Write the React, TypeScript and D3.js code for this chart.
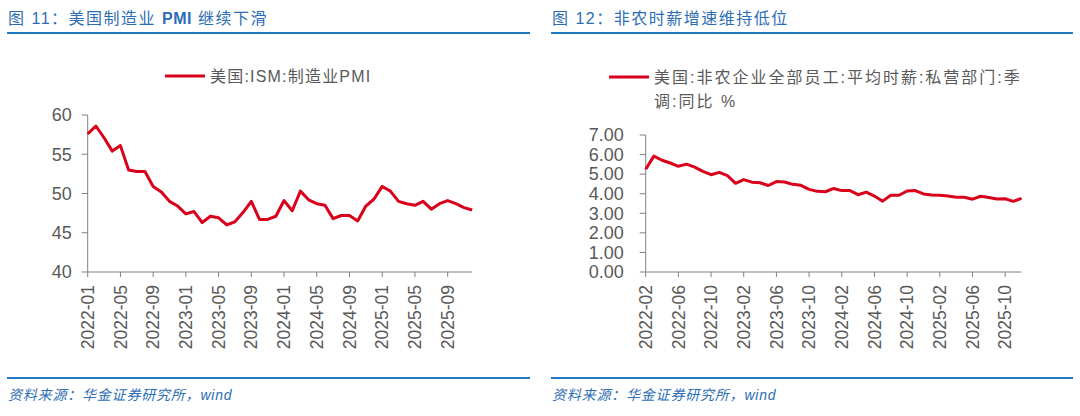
import React from "react";
import * as d3 from "d3";

// ISM manufacturing PMI, monthly from 2022-01
const pmiStart = [2022, 1];
const pmiValues = [
  57.6, 58.6, 57.1, 55.4, 56.1, 53.0, 52.8, 52.8, 50.9, 50.2, 49.0, 48.4,
  47.4, 47.7, 46.3, 47.1, 46.9, 46.0, 46.4, 47.6, 49.0, 46.7, 46.7, 47.1,
  49.1, 47.8, 50.3, 49.2, 48.7, 48.5, 46.8, 47.2, 47.2, 46.5, 48.4, 49.3,
  50.9, 50.3, 49.0, 48.7, 48.5, 49.0, 48.0, 48.7, 49.1, 48.7, 48.2, 47.9,
];
const pmiTicks = [
  "2022-01", "2022-05", "2022-09", "2023-01", "2023-05", "2023-09",
  "2024-01", "2024-05", "2024-09", "2025-01", "2025-05", "2025-09",
];
const pmiYTicks = [40, 45, 50, 55, 60];

// Average hourly earnings, private nonfarm, YoY %, monthly from 2022-02
const wageStart = [2022, 2];
const wageValues = [
  5.25, 5.92, 5.71, 5.57, 5.40, 5.51, 5.36, 5.14, 4.97, 5.09, 4.92, 4.53,
  4.72, 4.59, 4.56, 4.42, 4.62, 4.60, 4.48, 4.43, 4.22, 4.12, 4.10, 4.27,
  4.16, 4.16, 3.95, 4.08, 3.88, 3.62, 3.92, 3.92, 4.14, 4.16, 3.99, 3.94,
  3.92, 3.88, 3.82, 3.82, 3.72, 3.87, 3.81, 3.73, 3.74, 3.61, 3.76,
];
const wageTicks = [
  "2022-02", "2022-06", "2022-10", "2023-02", "2023-06", "2023-10",
  "2024-02", "2024-06", "2024-10", "2025-02", "2025-06", "2025-10",
];
const wageYTicks = [0, 1, 2, 3, 4, 5, 6, 7];

// Title pieces: [text, bold]
const leftTitle: [string, boolean][] = [
  ["图 11：美国制造业 ", false],
  ["PMI", true],
  [" 继续下滑", false],
];
const rightTitle: [string, boolean][] = [["图 12：非农时薪增速维持低位", false]];
const leftLegend = ["美国:ISM:制造业PMI"];
const rightLegend = ["美国:非农企业全部员工:平均时薪:私营部门:季", "调:同比 %"];
const source = "资料来源：华金证券研究所，wind";

const monthLabels = (start: number[], n: number) =>
  d3.range(n).map((i) => {
    const m = start[1] - 1 + i;
    const y = start[0] + Math.floor(m / 12);
    return `${y}-${String((m % 12) + 1).padStart(2, "0")}`;
  });

const RED = "#d9001b";
const BLUE = "#1f78c0";
const TITLE_BLUE = "#2d6db4";
const AXIS = "#808080";
const LABEL = "#595959";
const FONT = "Arial, 'Liberation Sans', 'Noto Sans CJK SC', sans-serif";

type PanelProps = {
  left: number;
  right: number;
  title: [string, boolean][];
  legend: string[];
  legendX: number;
  legendY: number;
  legendSpacing: number;
  values: number[];
  months: string[];
  ticks: string[];
  yTicks: number[];
  yDomain: [number, number];
  yTopPx: number;
  fmt: (v: number) => string;
  xRange: [number, number];
  labelGap: number;
};

function Panel(p: PanelProps) {
  const yBottom = 272;
  const x = d3.scaleLinear().domain([0, p.months.length - 1]).range(p.xRange);
  const y = d3.scaleLinear().domain(p.yDomain).range([yBottom, p.yTopPx]);
  const line = d3
    .line<number>()
    .x((_, i) => x(i))
    .y((d) => y(d));
  const axisX = p.xRange[0];
  const yMaxPx = y(p.yDomain[1]);

  return (
    <g>
      <text x={p.left + 1} y={24} fill={TITLE_BLUE} fontSize={16} letterSpacing={1.5} fontFamily={FONT}>
        {p.title.map(([t, b], i) => (
          <tspan key={i} fontWeight={b ? "bold" : "normal"} letterSpacing={b ? 0.5 : 1.5}>
            {t}
          </tspan>
        ))}
      </text>
      <line x1={p.left} x2={p.right} y1={33} y2={33} stroke={BLUE} strokeWidth={2} />

      {/* legend */}
      <line
        x1={p.legendX}
        x2={p.legendX + 40}
        y1={p.legendY}
        y2={p.legendY}
        stroke={RED}
        strokeWidth={3}
      />
      {p.legend.map((t, i) => (
        <text
          key={i}
          x={p.legendX + 45}
          y={p.legendY + i * 24}
          dy="0.35em"
          fill={LABEL}
          fontSize={16}
          letterSpacing={p.legendSpacing}
          fontFamily={FONT}
        >
          {t}
        </text>
      ))}

      {/* y axis */}
      <line x1={axisX} x2={axisX} y1={yMaxPx} y2={yBottom} stroke={AXIS} strokeWidth={1} />
      {p.yTicks.map((t) => (
        <g key={t}>
          <line x1={axisX - 6} x2={axisX} y1={y(t)} y2={y(t)} stroke={AXIS} strokeWidth={1} />
          <text
            x={axisX - p.labelGap}
            y={y(t)}
            dy="0.35em"
            textAnchor="end"
            fill={LABEL}
            fontSize={18}
            fontFamily={FONT}
          >
            {p.fmt(t)}
          </text>
        </g>
      ))}

      {/* x axis */}
      <line x1={axisX} x2={p.xRange[1]} y1={yBottom} y2={yBottom} stroke={AXIS} strokeWidth={1} />
      {p.ticks.map((t) => {
        const i = p.months.indexOf(t);
        const xi = x(i);
        return (
          <g key={t}>
            <line x1={xi} x2={xi} y1={yBottom} y2={yBottom + 5} stroke={AXIS} strokeWidth={1} />
            <text
              transform={`translate(${xi},${yBottom + 13}) rotate(-90)`}
              dy="0.35em"
              textAnchor="end"
              fill={LABEL}
              fontSize={17.5}
              fontFamily={FONT}
            >
              {t}
            </text>
          </g>
        );
      })}

      <path d={line(p.values) || ""} fill="none" stroke={RED} strokeWidth={3} strokeLinejoin="round" />

      {/* source */}
      <line x1={p.left} x2={p.right} y1={378} y2={378} stroke={BLUE} strokeWidth={2} />
      <text
        x={p.left + 1}
        y={400}
        fill={TITLE_BLUE}
        fontSize={14}
        fontStyle="italic"
        letterSpacing={0.8}
        fontFamily={FONT}
      >
        {source}
      </text>
    </g>
  );
}

export default function App() {
  const pmiMonths = monthLabels(pmiStart, pmiValues.length);
  const wageMonths = monthLabels(wageStart, wageValues.length);
  return (
    <svg width={1080} height={416} style={{ position: "absolute", left: 0, top: 0, background: "#fff" }}>
      <rect width={1080} height={416} fill="#fff" />
      <Panel
        left={7}
        right={530}
        title={leftTitle}
        legend={leftLegend}
        legendX={165}
        legendY={76}
        legendSpacing={1.2}
        values={pmiValues}
        months={pmiMonths}
        ticks={pmiTicks}
        yTicks={pmiYTicks}
        yDomain={[40, 60]}
        yTopPx={115}
        fmt={(v) => String(v)}
        xRange={[87.7, 472.2]}
        labelGap={16}
      />
      <Panel
        left={551}
        right={1073}
        title={rightTitle}
        legend={rightLegend}
        legendX={609}
        legendY={77}
        legendSpacing={2}
        values={wageValues}
        months={wageMonths}
        ticks={wageTicks}
        yTicks={wageYTicks}
        yDomain={[0, 7]}
        yTopPx={135}
        fmt={(v) => v.toFixed(2)}
        xRange={[645.7, 1021.5]}
        labelGap={22}
      />
    </svg>
  );
}
